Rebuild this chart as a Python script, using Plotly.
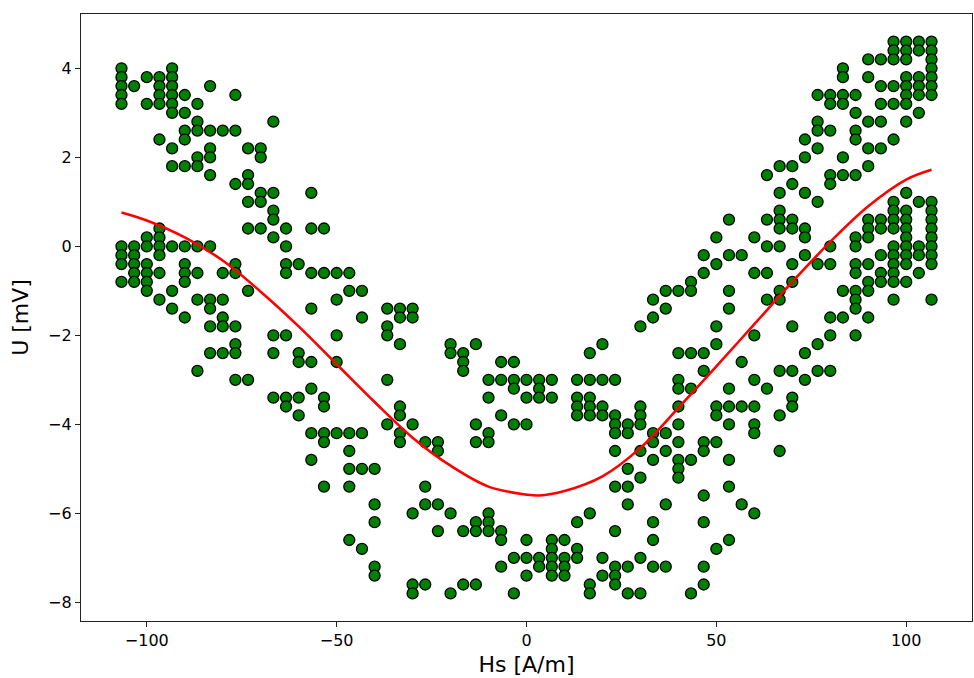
import plotly.graph_objects as go

# ---------------- data ----------------
hs_left = [-106.67, -103.33, -100.0, -96.67, -93.33, -90.0, -86.67, -83.33,
           -80.0, -76.67, -73.33, -70.0, -66.67, -63.33, -60.0, -56.67]
u_left = [
    [4.0, 3.8, 3.6, 3.4, 3.2, 0.0, -0.2, -0.4, -0.8],
    [3.6, 0.0, -0.2, -0.4, -0.6, -0.8],
    [3.8, 3.2, 0.2, 0.0, -0.4, -0.6, -0.8, -1.0],
    [3.8, 3.6, 3.4, 3.2, 2.4, 0.4, 0.2, 0.0, -0.2, -0.6, -1.2],
    [4.0, 3.8, 3.6, 3.4, 3.2, 3.0, 2.2, 1.8, 0.0, -1.0, -1.4],
    [3.4, 3.0, 2.6, 2.4, 1.8, 0.0, -0.4, -0.6, -0.8, -1.6],
    [3.2, 2.8, 2.6, 2.0, 1.8, 0.0, -0.6, -1.2, -2.8],
    [3.6, 2.6, 2.2, 2.0, 1.6, 0.0, -1.2, -1.4, -1.8, -2.4],
    [2.6, -0.6, -1.2, -1.6, -1.8, -2.4],
    [3.4, 2.6, 1.4, -0.4, -0.6, -1.8, -2.2, -2.4, -3.0],
    [2.2, 1.6, 1.4, 1.0, 0.4, -1.0, -3.0],
    [2.2, 2.0, 1.2, 1.0, 0.4],
    [2.8, 1.2, 0.8, 0.6, 0.2, -2.0, -2.4, -3.4],
    [0.4, 0.0, -0.4, -0.6, -2.0, -3.4, -3.6],
    [-0.4, -2.4, -2.6, -3.4, -3.8],
    [1.2, 0.4, -0.6, -1.4, -2.6, -3.2, -4.2, -4.8],
]

hs_mid = [-53.33, -50.0, -46.67, -43.33, -40.0, -36.67, -33.33, -30.0, -26.67,
          -23.33, -20.0, -16.67, -13.33, -10.0, -6.67, -3.33, 0.0, 3.33, 6.67,
          10.0, 13.33, 16.67, 20.0, 23.33, 26.67, 30.0, 33.33, 36.67, 40.0,
          43.33, 46.67, 50.0, 53.33, 56.67]
u_mid = [
    [0.4, -0.6, -3.4, -3.6, -4.2, -4.4, -5.4],
    [-0.6, -1.2, -2.0, -2.6, -4.2],
    [-0.6, -1.0, -4.2, -4.6, -5.0, -5.4, -6.6],
    [-1.0, -1.6, -4.2, -5.0, -6.8],
    [-5.0, -5.8, -6.2, -7.2, -7.4],
    [-1.4, -1.8, -2.0, -3.0, -4.0],
    [-1.4, -1.6, -2.2, -3.6, -3.8, -4.2, -4.4],
    [-1.4, -1.6, -4.0, -6.0, -7.6, -7.8],
    [-4.4, -5.4, -5.8, -7.6],
    [-4.4, -4.6, -5.8, -6.4],
    [-2.2, -2.4, -6.0, -7.8],
    [-2.4, -2.6, -2.8, -6.4, -7.6],
    [-2.2, -4.0, -4.4, -6.2, -6.4, -7.6],
    [-3.0, -3.4, -4.2, -4.4, -6.0, -6.2, -6.4],
    [-2.6, -3.0, -3.8, -6.4, -6.6, -7.2],
    [-2.6, -3.0, -3.2, -4.0, -7.0, -7.8],
    [-3.0, -3.4, -4.0, -6.6, -7.0, -7.4],
    [-3.0, -3.2, -3.4, -7.0, -7.2],
    [-3.0, -3.4, -6.6, -6.8, -7.0, -7.2, -7.4],
    [-6.6, -7.0, -7.2, -7.4],
    [-3.0, -3.4, -3.6, -3.8, -6.2, -6.8, -7.0],
    [-2.4, -3.0, -3.4, -3.6, -3.8, -6.0, -7.6, -7.8],
    [-2.2, -3.0, -3.6, -3.8, -7.0, -7.4],
    [-3.0, -3.8, -4.0, -4.2, -4.6, -5.4, -6.4, -7.2, -7.4, -7.6],
    [-4.0, -4.2, -5.0, -5.4, -5.8, -7.2, -7.8],
    [-1.8, -3.6, -3.8, -4.0, -4.6, -5.2, -7.0, -7.8],
    [-1.2, -1.6, -4.2, -4.4, -4.8, -6.2, -6.6, -7.2],
    [-1.0, -1.4, -4.2, -4.6, -5.8, -7.2],
    [-1.0, -2.4, -3.0, -3.2, -3.6, -4.0, -4.4, -4.8, -5.0, -5.2],
    [-0.8, -1.0, -2.4, -3.2, -4.8, -7.8],
    [-0.2, -0.6, -2.4, -2.8, -4.4, -4.6, -5.6, -6.2, -7.2, -7.6],
    [0.2, -0.4, -1.8, -2.2, -3.6, -3.8, -4.4, -6.8],
    [0.6, -0.2, -1.0, -1.4, -3.2, -3.6, -4.0, -4.8, -5.4, -6.6],
    [-0.2, -2.6, -3.6, -5.8],
]

hs_right = [60.0, 63.33, 66.67, 70.0, 73.33, 76.67, 80.0, 83.33, 86.67,
            90.0, 93.33, 96.67, 100.0, 103.33, 106.67]
u_right = [
    [0.2, -0.6, -2.0, -3.0, -3.6, -4.0, -4.2, -6.0],
    [1.6, 0.6, 0.0, -0.6, -1.2, -3.2],
    [1.8, 1.2, 0.8, 0.6, 0.4, 0.0, -1.0, -1.2, -2.8, -3.8, -4.6],
    [1.8, 1.4, 0.6, 0.4, -0.4, -0.8, -1.8, -2.8, -3.4, -3.6],
    [2.4, 2.0, 1.2, 0.4, 0.2, -0.2, -2.4, -3.0],
    [3.4, 2.8, 2.6, 2.2, 1.0, -0.4, -2.2, -2.8],
    [3.4, 3.2, 2.6, 1.6, 1.4, 0.0, -0.4, -1.6, -2.0, -2.8],
    [4.0, 3.8, 3.4, 3.2, 2.0, 1.6, -1.0, -1.6],
    [3.4, 3.0, 2.6, 2.4, 1.6, 0.2, 0.0, -0.4, -0.6, -1.0, -1.2, -1.4, -2.0],
    [4.2, 3.8, 2.8, 2.2, 1.8, 0.6, 0.4, 0.2, -0.4, -0.8, -1.0, -1.6],
    [4.2, 3.6, 3.2, 2.8, 2.2, 0.6, 0.4, -0.2, -0.6, -0.8],
    [4.6, 4.4, 4.2, 3.6, 3.2, 2.4, 1.0, 0.8, 0.6, 0.4, 0.0, -0.2, -0.4, -0.6, -0.8, -1.2],
    [4.6, 4.4, 4.2, 3.8, 3.6, 3.4, 3.2, 2.8, 1.2, 0.8, 0.6, 0.4, 0.2, 0.0, -0.2, -0.4, -0.8],
    [4.6, 4.4, 3.8, 3.6, 3.4, 3.0, 1.0, 0.0, -0.2, -0.6],
    [4.6, 4.4, 4.2, 4.0, 3.8, 3.6, 3.4, 1.0, 0.8, 0.6, 0.4, 0.2, 0.0, -0.2, -0.4, -1.2],
]

# fitted curve
fit_hs = [-106.67, -100, -90, -80, -70, -60, -50, -40, -30, -20, -10, 0, 3.33,
          10, 20, 30, 40, 50, 60, 70, 80, 90, 100, 106.67]
fit_u = [0.76, 0.58, 0.20, -0.32, -1.02, -1.80, -2.65, -3.50, -4.30, -4.93,
         -5.40, -5.58, -5.60, -5.50, -5.17, -4.53, -3.63, -2.70, -1.75, -0.80,
         0.10, 0.90, 1.50, 1.72]

x_ticks = [-100, -50, 0, 50, 100]
y_ticks = [-8, -6, -4, -2, 0, 2, 4]

# ---------------- figure ----------------
pts_x, pts_y = [], []
for hs_list, u_list in ((hs_left, u_left), (hs_mid, u_mid), (hs_right, u_right)):
    for h, us in zip(hs_list, u_list):
        for u in us:
            pts_x.append(h)
            pts_y.append(u)

fig = go.Figure()
fig.add_trace(go.Scatter(
    x=pts_x, y=pts_y, mode="markers",
    marker=dict(size=11, color="#008000", line=dict(color="black", width=1.3)),
))
fig.add_trace(go.Scatter(
    x=fit_hs, y=fit_u, mode="lines",
    line=dict(color="red", width=2.6, shape="spline"),
))

fig.update_layout(
    width=974, height=678,
    margin=dict(l=81, r=2, t=14, b=57),
    plot_bgcolor="white", paper_bgcolor="white",
    showlegend=False,
    font=dict(family="DejaVu Sans", size=16, color="black"),
)
axis_common = dict(
    ticks="outside", ticklen=5, tickwidth=1.2, tickcolor="#222",
    showline=True, linecolor="#222", linewidth=1.2, mirror=True,
    showgrid=False, zeroline=False, tickfont=dict(size=16),
)
fig.update_xaxes(range=[-117.33, 117.33], tickvals=x_ticks,
                 title=dict(text="Hs [A/m]", font=dict(size=22), standoff=7),
                 **axis_common)
fig.update_yaxes(range=[-8.42, 5.22], tickvals=y_ticks,
                 title=dict(text="U [mV]", font=dict(size=22), standoff=13),
                 **axis_common)

fig.write_html("out.html", config={"displayModeBar": False},
               post_script="document.body.style.margin='0px';")
